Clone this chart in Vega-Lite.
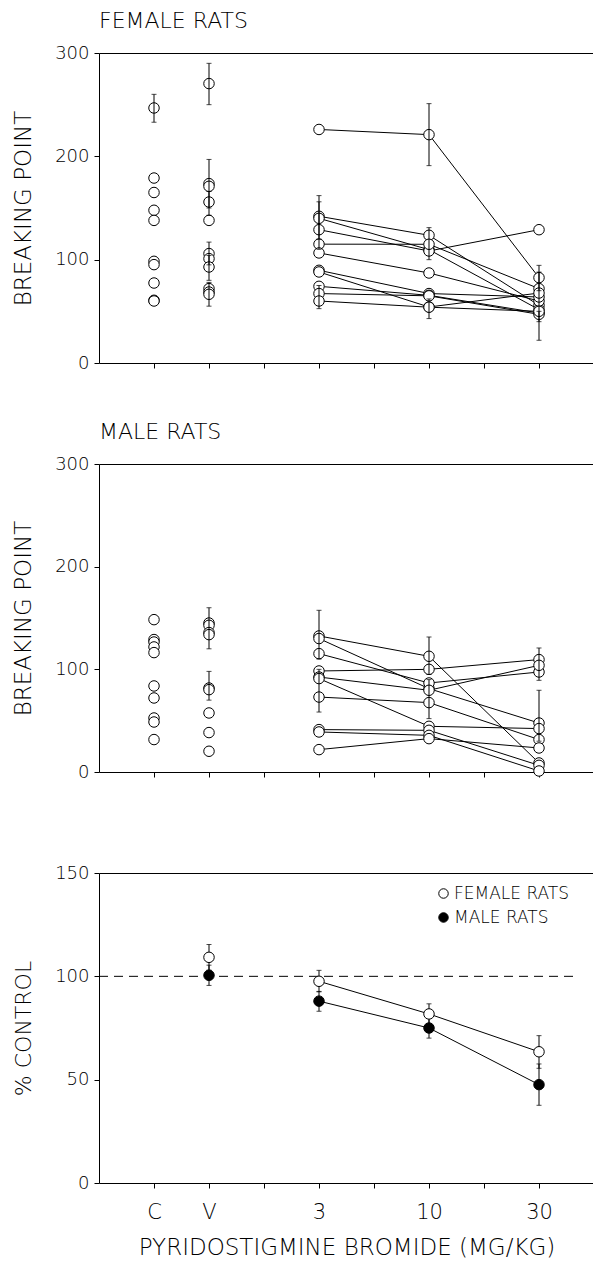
{
  "$schema": "https://vega.github.io/schema/vega-lite/v6.json",
  "padding": {"left": 12, "top": 10, "right": 0, "bottom": 0},
  "background": "white",
  "config": {
    "view": {"stroke": null},
    "font": "DejaVu Sans",
    "axis": {
      "domainColor": "black", "tickColor": "black", "labelColor": "black", "titleColor": "black",
      "grid": false, "labelFont": "DejaVu Sans", "titleFont": "DejaVu Sans",
      "labelFontWeight": 200, "titleFontWeight": 200, "tickSize": 5, "domainWidth": 1, "tickWidth": 1
    },
    "axisY": {"titleFontSize": 23, "labelFontSize": 18, "titlePadding": 19, "labelPadding": 5},
    "title": {"font": "DejaVu Sans", "fontWeight": 200, "color": "black"},
    "legend": {"labelFont": "DejaVu Sans", "labelFontWeight": 200}
  },
  "datasets": {
    "fem": [
      {"rat": "c", "x": 1, "v": 246.8}, {"rat": "c", "x": 1, "v": 179}, {"rat": "c", "x": 1, "v": 165}, {"rat": "c", "x": 1, "v": 147.8}, {"rat": "c", "x": 1, "v": 138}, {"rat": "c", "x": 1, "v": 98.4}, {"rat": "c", "x": 1, "v": 95.2}, {"rat": "c", "x": 1, "v": 77.4}, {"rat": "c", "x": 1, "v": 60.7}, {"rat": "c", "x": 1, "v": 60},
      {"rat": "v", "x": 2, "v": 270.4}, {"rat": "v", "x": 2, "v": 173.6}, {"rat": "v", "x": 2, "v": 171}, {"rat": "v", "x": 2, "v": 155.8}, {"rat": "v", "x": 2, "v": 138}, {"rat": "v", "x": 2, "v": 105.9}, {"rat": "v", "x": 2, "v": 101}, {"rat": "v", "x": 2, "v": 92.9}, {"rat": "v", "x": 2, "v": 72}, {"rat": "v", "x": 2, "v": 68.7}, {"rat": "v", "x": 2, "v": 66.5},
      {"rat": "f1", "x": 4, "v": 226}, {"rat": "f1", "x": 6, "v": 221}, {"rat": "f1", "x": 8, "v": 82.6},
      {"rat": "f2", "x": 4, "v": 142}, {"rat": "f2", "x": 6, "v": 123.6}, {"rat": "f2", "x": 8, "v": 55.8},
      {"rat": "f3", "x": 4, "v": 140}, {"rat": "f3", "x": 6, "v": 109.7}, {"rat": "f3", "x": 8, "v": 51.7},
      {"rat": "f4", "x": 4, "v": 129}, {"rat": "f4", "x": 6, "v": 108.4}, {"rat": "f4", "x": 8, "v": 129},
      {"rat": "f5", "x": 4, "v": 115}, {"rat": "f5", "x": 6, "v": 114.9}, {"rat": "f5", "x": 8, "v": 72},
      {"rat": "f6", "x": 4, "v": 106.5}, {"rat": "f6", "x": 6, "v": 87.1}, {"rat": "f6", "x": 8, "v": 60},
      {"rat": "f7", "x": 4, "v": 89.7}, {"rat": "f7", "x": 6, "v": 67.2}, {"rat": "f7", "x": 8, "v": 63.9},
      {"rat": "f8", "x": 4, "v": 88.1}, {"rat": "f8", "x": 6, "v": 54.2}, {"rat": "f8", "x": 8, "v": 67.7},
      {"rat": "f9", "x": 4, "v": 74.2}, {"rat": "f9", "x": 6, "v": 65.5}, {"rat": "f9", "x": 8, "v": 48.4},
      {"rat": "f10", "x": 4, "v": 67.2}, {"rat": "f10", "x": 6, "v": 65}, {"rat": "f10", "x": 8, "v": 47.1},
      {"rat": "f11", "x": 4, "v": 60}, {"rat": "f11", "x": 6, "v": 54}, {"rat": "f11", "x": 8, "v": 50}
    ],
    "femErr": [
      {"x": 1, "lo": 233, "hi": 260}, {"x": 2, "lo": 250, "hi": 290}, {"x": 2, "lo": 150, "hi": 197}, {"x": 2, "lo": 143, "hi": 166},
      {"x": 2, "lo": 95, "hi": 117}, {"x": 2, "lo": 80, "hi": 104}, {"x": 2, "lo": 55, "hi": 78},
      {"x": 4, "lo": 120, "hi": 162}, {"x": 4, "lo": 110, "hi": 156}, {"x": 4, "lo": 52.6, "hi": 75},
      {"x": 6, "lo": 191, "hi": 251}, {"x": 6, "lo": 100, "hi": 131}, {"x": 6, "lo": 43, "hi": 62},
      {"x": 8, "lo": 70, "hi": 94.5}, {"x": 8, "lo": 22, "hi": 50}, {"x": 8, "lo": 40, "hi": 88}
    ],
    "mal": [
      {"rat": "c", "x": 1, "v": 148.4}, {"rat": "c", "x": 1, "v": 129}, {"rat": "c", "x": 1, "v": 126.6}, {"rat": "c", "x": 1, "v": 121.8}, {"rat": "c", "x": 1, "v": 116.3}, {"rat": "c", "x": 1, "v": 83.8}, {"rat": "c", "x": 1, "v": 72.1}, {"rat": "c", "x": 1, "v": 52.6}, {"rat": "c", "x": 1, "v": 48.7}, {"rat": "c", "x": 1, "v": 31.6},
      {"rat": "v", "x": 2, "v": 145.1}, {"rat": "v", "x": 2, "v": 142.9}, {"rat": "v", "x": 2, "v": 135.8}, {"rat": "v", "x": 2, "v": 133.8}, {"rat": "v", "x": 2, "v": 81.8}, {"rat": "v", "x": 2, "v": 80.2}, {"rat": "v", "x": 2, "v": 57.5}, {"rat": "v", "x": 2, "v": 38.4}, {"rat": "v", "x": 2, "v": 20.2},
      {"rat": "m1", "x": 4, "v": 132.5}, {"rat": "m1", "x": 6, "v": 112.7}, {"rat": "m1", "x": 8, "v": 8.8},
      {"rat": "m2", "x": 4, "v": 130}, {"rat": "m2", "x": 6, "v": 81.2}, {"rat": "m2", "x": 8, "v": 47.7},
      {"rat": "m3", "x": 4, "v": 115.3}, {"rat": "m3", "x": 6, "v": 86.7}, {"rat": "m3", "x": 8, "v": 97.4},
      {"rat": "m4", "x": 4, "v": 98.4}, {"rat": "m4", "x": 6, "v": 100}, {"rat": "m4", "x": 8, "v": 109.5},
      {"rat": "m5", "x": 4, "v": 92.5}, {"rat": "m5", "x": 6, "v": 79.6}, {"rat": "m5", "x": 8, "v": 103.9},
      {"rat": "m6", "x": 4, "v": 91}, {"rat": "m6", "x": 6, "v": 44.5}, {"rat": "m6", "x": 8, "v": 42.3},
      {"rat": "m7", "x": 4, "v": 73}, {"rat": "m7", "x": 6, "v": 67.6}, {"rat": "m7", "x": 8, "v": 31.6},
      {"rat": "m8", "x": 4, "v": 41.3}, {"rat": "m8", "x": 6, "v": 40.6}, {"rat": "m8", "x": 8, "v": 6.5},
      {"rat": "m9", "x": 4, "v": 39}, {"rat": "m9", "x": 6, "v": 35.7}, {"rat": "m9", "x": 8, "v": 1},
      {"rat": "m10", "x": 4, "v": 21.8}, {"rat": "m10", "x": 6, "v": 32.5}, {"rat": "m10", "x": 8, "v": 23.4}
    ],
    "malErr": [
      {"x": 2, "lo": 120, "hi": 160}, {"x": 2, "lo": 70, "hi": 98},
      {"x": 4, "lo": 110, "hi": 157.5}, {"x": 4, "lo": 58.4, "hi": 100},
      {"x": 6, "lo": 95, "hi": 131.5}, {"x": 6, "lo": 52, "hi": 90},
      {"x": 8, "lo": 89.3, "hi": 120.8}, {"x": 8, "lo": 30, "hi": 79.6}
    ],
    "pct": [
      {"sex": "FEMALE RATS", "x": 2, "v": 109.2, "lo": 103, "hi": 115.4},
      {"sex": "FEMALE RATS", "x": 4, "v": 97.6, "lo": 92.5, "hi": 102.9},
      {"sex": "FEMALE RATS", "x": 6, "v": 81.8, "lo": 77, "hi": 86.7},
      {"sex": "FEMALE RATS", "x": 8, "v": 63.5, "lo": 55.5, "hi": 71.3},
      {"sex": "MALE RATS", "x": 2, "v": 100.5, "lo": 95.6, "hi": 105.4},
      {"sex": "MALE RATS", "x": 4, "v": 88, "lo": 83.1, "hi": 92.7},
      {"sex": "MALE RATS", "x": 6, "v": 75, "lo": 70.1, "hi": 79.8},
      {"sex": "MALE RATS", "x": 8, "v": 47.6, "lo": 37.6, "hi": 57.6}
    ],
    "ref": [{"x0": 0, "x1": 8.64, "y": 100}]
  },
  "vconcat": [
    {
      "width": 495, "height": 310,
      "title": {"text": "FEMALE RATS", "anchor": "start", "frame": "group", "fontSize": 22, "offset": 11},
      "resolve": {"axis": {"x": "independent"}},
      "layer": [
        {
          "data": {"name": "fem"},
          "transform": [{"filter": "datum.x >= 4"}],
          "mark": {"type": "line", "color": "black", "strokeWidth": 1},
          "encoding": {
            "x": {"field": "x", "type": "quantitative", "scale": {"domain": [0, 9], "nice": false}, "axis": {"orient": "top", "ticks": false, "labels": false, "title": null}},
            "y": {"field": "v", "type": "quantitative", "scale": {"domain": [0, 300], "nice": false}, "title": "BREAKING POINT", "axis": {"values": [0, 100, 200, 300]}},
            "detail": {"field": "rat"}
          }
        },
        {
          "data": {"name": "fem"},
          "mark": {"type": "point", "shape": "circle", "filled": false, "fill": "white", "fillOpacity": 1, "stroke": "black", "strokeWidth": 1, "size": 110, "opacity": 1},
          "encoding": {
            "x": {"field": "x", "type": "quantitative", "axis": {"orient": "bottom", "values": [1, 2, 3, 4, 5, 6, 7, 8], "labels": false, "title": null}},
            "y": {"field": "v", "type": "quantitative", "scale": {"domain": [0, 300], "nice": false}, "title": "BREAKING POINT", "axis": {"values": [0, 100, 200, 300]}}
          }
        },
        {
          "data": {"name": "femErr"},
          "mark": {"type": "errorbar", "ticks": {"size": 5, "color": "black"}, "rule": {"color": "black", "strokeWidth": 1}},
          "encoding": {
            "x": {"field": "x", "type": "quantitative", "axis": null},
            "y": {"field": "lo", "type": "quantitative", "scale": {"domain": [0, 300], "nice": false}, "title": "BREAKING POINT", "axis": {"values": [0, 100, 200, 300]}},
            "y2": {"field": "hi"}
          }
        }
      ]
    },
    {
      "width": 495, "height": 308,
      "title": {"text": "MALE RATS", "anchor": "start", "frame": "group", "fontSize": 22, "offset": 11},
      "resolve": {"axis": {"x": "independent"}},
      "layer": [
        {
          "data": {"name": "mal"},
          "transform": [{"filter": "datum.x >= 4"}],
          "mark": {"type": "line", "color": "black", "strokeWidth": 1},
          "encoding": {
            "x": {"field": "x", "type": "quantitative", "scale": {"domain": [0, 9], "nice": false}, "axis": {"orient": "top", "ticks": false, "labels": false, "title": null}},
            "y": {"field": "v", "type": "quantitative", "scale": {"domain": [0, 300], "nice": false}, "title": "BREAKING POINT", "axis": {"values": [0, 100, 200, 300]}},
            "detail": {"field": "rat"}
          }
        },
        {
          "data": {"name": "mal"},
          "mark": {"type": "point", "shape": "circle", "filled": false, "fill": "white", "fillOpacity": 1, "stroke": "black", "strokeWidth": 1, "size": 110, "opacity": 1},
          "encoding": {
            "x": {"field": "x", "type": "quantitative", "axis": {"orient": "bottom", "values": [1, 2, 3, 4, 5, 6, 7, 8], "labels": false, "title": null}},
            "y": {"field": "v", "type": "quantitative", "scale": {"domain": [0, 300], "nice": false}, "title": "BREAKING POINT", "axis": {"values": [0, 100, 200, 300]}}
          }
        },
        {
          "data": {"name": "malErr"},
          "mark": {"type": "errorbar", "ticks": {"size": 5, "color": "black"}, "rule": {"color": "black", "strokeWidth": 1}},
          "encoding": {
            "x": {"field": "x", "type": "quantitative", "axis": null},
            "y": {"field": "lo", "type": "quantitative", "scale": {"domain": [0, 300], "nice": false}, "title": "BREAKING POINT", "axis": {"values": [0, 100, 200, 300]}},
            "y2": {"field": "hi"}
          }
        }
      ]
    },
    {
      "width": 495, "height": 310,
      "resolve": {"axis": {"x": "independent"}},
      "layer": [
        {
          "data": {"name": "ref"},
          "mark": {"type": "rule", "color": "black", "strokeWidth": 1, "strokeDash": [9, 6]},
          "encoding": {
            "x": {"field": "x0", "type": "quantitative", "scale": {"domain": [0, 9], "nice": false}, "axis": {"orient": "top", "ticks": false, "labels": false, "title": null}},
            "x2": {"field": "x1"},
            "y": {"field": "y", "type": "quantitative", "scale": {"domain": [0, 150], "nice": false}, "title": "% CONTROL", "axis": {"values": [0, 50, 100, 150], "titleFontSize": 22}}
          }
        },
        {
          "data": {"name": "pct"},
          "transform": [{"filter": "datum.x >= 4"}],
          "mark": {"type": "line", "color": "black", "strokeWidth": 1},
          "encoding": {
            "x": {"field": "x", "type": "quantitative", "axis": null},
            "y": {"field": "v", "type": "quantitative", "scale": {"domain": [0, 150], "nice": false}, "title": "% CONTROL", "axis": {"values": [0, 50, 100, 150], "titleFontSize": 22}},
            "detail": {"field": "sex"}
          }
        },
        {
          "data": {"name": "pct"},
          "mark": {"type": "errorbar", "ticks": {"size": 5, "color": "black"}, "rule": {"color": "black", "strokeWidth": 1}},
          "encoding": {
            "x": {"field": "x", "type": "quantitative", "axis": null},
            "y": {"field": "lo", "type": "quantitative", "scale": {"domain": [0, 150], "nice": false}, "title": "% CONTROL", "axis": {"values": [0, 50, 100, 150], "titleFontSize": 22}},
            "y2": {"field": "hi"}
          }
        },
        {
          "data": {"name": "pct"},
          "mark": {"type": "point", "shape": "circle", "filled": true, "stroke": "black", "strokeWidth": 1, "size": 110, "opacity": 1},
          "encoding": {
            "x": {"field": "x", "type": "quantitative", "axis": {"orient": "bottom", "values": [1, 2, 3, 4, 5, 6, 7, 8], "labelExpr": "datum.value == 1 ? 'C' : datum.value == 2 ? 'V' : datum.value == 4 ? '3' : datum.value == 6 ? '10' : datum.value == 8 ? '30' : ''", "labelFontSize": 21, "labelPadding": 13, "title": "PYRIDOSTIGMINE BROMIDE (MG/KG)", "titleFontSize": 23, "titlePadding": 14}},
            "y": {"field": "v", "type": "quantitative", "scale": {"domain": [0, 150], "nice": false}, "title": "% CONTROL", "axis": {"values": [0, 50, 100, 150], "titleFontSize": 22}},
            "fill": {"field": "sex", "type": "nominal", "scale": {"domain": ["FEMALE RATS", "MALE RATS"], "range": ["white", "black"]},
              "legend": {"title": null, "orient": "none", "legendX": 336, "legendY": 832, "labelFontSize": 17, "symbolStrokeColor": "black", "symbolStrokeWidth": 1, "symbolSize": 90, "labelOffset": 2, "rowPadding": 6, "padding": 0, "symbolType": "circle"}}
          }
        }
      ]
    }
  ],
  "spacing": 101,
  "bounds": "flush"
}
